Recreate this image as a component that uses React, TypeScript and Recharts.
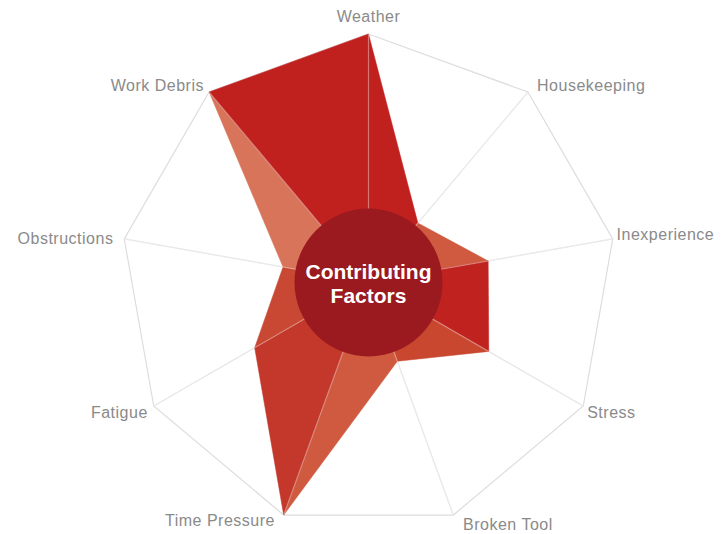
import React from "react";
import {
  RadarChart,
  Radar,
  PolarGrid,
  PolarAngleAxis,
  PolarRadiusAxis,
} from "recharts";

const categories = [
  "Weather",
  "Housekeeping",
  "Inexperience",
  "Stress",
  "Broken Tool",
  "Time Pressure",
  "Fatigue",
  "Obstructions",
  "Work Debris",
];
const values = [100, 31, 49, 56, 34, 100, 53, 35, 100];
const wedgeColors = [
  "#c0211f",
  "#cf5a3f",
  "#c0221f",
  "#c9462f",
  "#cf5a40",
  "#c3382a",
  "#c84833",
  "#d87459",
  "#c0211f",
];
const centerLines = ["Contributing", "Factors"];

const N = categories.length;
const data = categories.map((name, i) => {
  const row: Record<string, any> = { name };
  for (let k = 0; k < N; k++) {
    row["w" + k] = i === k || i === (k + 1) % N ? values[i] : 0;
  }
  return row;
});

const W = 728;
const H = 534;
const CX = 368.5;
const CY = 282;
const R = 248;
const LABEL_FONT = "'Liberation Sans', Arial, sans-serif";

const AngleTick = (props: any) => {
  const { x, y, payload, textAnchor } = props;
  const ang = (payload.coordinate * Math.PI) / 180;
  const s = Math.sin(ang);
  const c = Math.cos(ang);
  let dx = 0;
  let dy = 0;
  if (s > 0.95) dy = -10;
  if (s > 0.6 && s < 0.9) dx = c > 0 ? 4 : 0;
  if (s < -0.9) {
    dx = c > 0 ? 7 : -6;
    dy = c > 0 ? 2 : -2;
  }
  if (Math.abs(s) < 0.2) {
    dy = c > 0 ? -3 : 1;
    dx = c > 0 ? -4 : -3;
  }
  if (s < -0.4 && s > -0.6) {
    dy = 2;
    dx = c > 0 ? -3 : 1;
  }
  return (
    <text
      x={x + dx}
      y={y + dy}
      textAnchor={textAnchor}
      dominantBaseline="central"
      fill="#8a8a8a"
      fontSize={16}
      letterSpacing={0.5}
      fontFamily={LABEL_FONT}
    >
      {payload.value}
    </text>
  );
};

// Overlay: faint radial spokes over the filled wedges, and the centre badge
const Overlay = () => {
  const spokes = categories.map((_, i) => {
    const a = ((90 - (360 / N) * i) * Math.PI) / 180;
    return (
      <line
        key={i}
        x1={CX}
        y1={CY}
        x2={CX + R * Math.cos(a)}
        y2={CY - R * Math.sin(a)}
        stroke="#ffffff"
        strokeOpacity={0.35}
        strokeWidth={1.2}
      />
    );
  });
  return (
    <svg
      width={W}
      height={H}
      style={{ position: "absolute", left: 0, top: 0, pointerEvents: "none" }}
    >
      {spokes}
      <circle cx={CX} cy={CY + 0.5} r={74} fill="#9a1a1f" />
      <text
        x={CX}
        textAnchor="middle"
        fill="#ffffff"
        fontSize={21}
        fontWeight="bold"
        fontFamily={LABEL_FONT}
      >
        <tspan x={CX} y={CY - 3}>
          {centerLines[0]}
        </tspan>
        <tspan x={CX} y={CY + 21}>
          {centerLines[1]}
        </tspan>
      </text>
    </svg>
  );
};

export default function App() {
  return (
    <div
      style={{
        position: "absolute",
        left: 0,
        top: 0,
        width: W,
        height: H,
        background: "#ffffff",
      }}
    >
      <RadarChart
        width={W}
        height={H}
        data={data}
        cx={CX}
        cy={CY}
        outerRadius={R}
        margin={{ top: 0, right: 0, bottom: 0, left: 0 }}
      >
        <PolarGrid
          gridType="polygon"
          polarRadius={[R]}
          stroke="#dddddd"
          strokeWidth={1.2}
        />
        <PolarAngleAxis
          dataKey="name"
          tick={AngleTick}
          tickLine={false}
          axisLine={false}
        />
        <PolarRadiusAxis
          domain={[0, 100]}
          tick={false}
          axisLine={false}
          tickCount={2}
        />
        {wedgeColors.map((col, k) => (
          <Radar
            key={k}
            dataKey={"w" + k}
            fill={col}
            fillOpacity={1}
            stroke={col}
            strokeWidth={0.5}
            dot={false}
            isAnimationActive={false}
          />
        ))}
      </RadarChart>
      <Overlay />
    </div>
  );
}
